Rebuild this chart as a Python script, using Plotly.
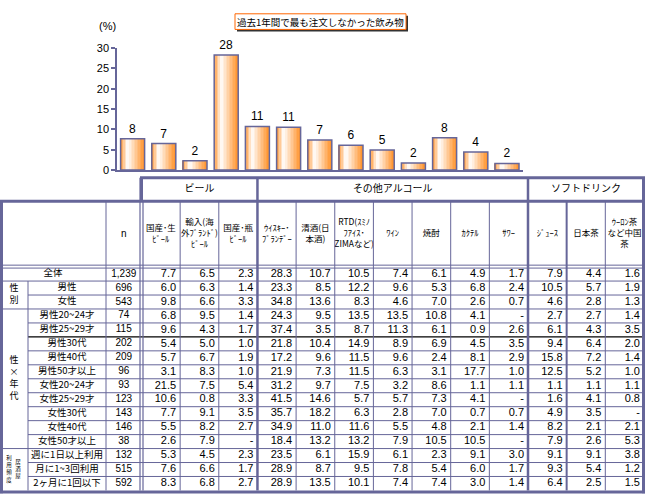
import plotly.graph_objects as go

# ---------------- data ----------------
title_text = "過去1年間で最も注文しなかった飲み物"
drinks = ["国産・生ビール", "輸入(海外ブランド)ビール", "国産・瓶ビール", "ウイスキー・ブランデー",
          "清酒(日本酒)", "RTD(スミノフアイス・ZIMAなど)", "ワイン", "焼酎", "カクテル", "サワー",
          "ジュース", "日本茶", "ウーロン茶など中国茶"]
header_labels = ["国産･生<br>ﾋﾞｰﾙ", "輸入(海<br>外ﾌﾞﾗﾝﾄﾞ)<br>ﾋﾞｰﾙ", "国産･瓶<br>ﾋﾞｰﾙ",
                 "ｳｲｽｷｰ･<br>ﾌﾞﾗﾝﾃﾞｰ", "清酒(日<br>本酒)", "RTD(ｽﾐﾉ<br>ﾌｱｲｽ･<br>ZIMAなど)",
                 "ﾜｲﾝ", "焼酎", "ｶｸﾃﾙ", "ｻﾜｰ", "ｼﾞｭｰｽ", "日本茶", "ｳｰﾛﾝ茶<br>など中国<br>茶"]
group_names = ["ビール", "その他アルコール", "ソフトドリンク"]
group_sizes = [3, 7, 3]
segments = ["全体", "男性", "女性", "男性20~24才", "男性25~29才", "男性30代", "男性40代", "男性50才以上",
            "女性20~24才", "女性25~29才", "女性30代", "女性40代", "女性50才以上",
            "週に1日以上利用", "月に1~3回利用", "2ヶ月に1回以下"]
n_values = ["1,239", "696", "543", "74", "115", "202", "209", "96", "93", "123", "143", "146", "38",
            "132", "515", "592"]
N = None
table_values = [
    [7.7, 6.5, 2.3, 28.3, 10.7, 10.5, 7.4, 6.1, 4.9, 1.7, 7.9, 4.4, 1.6],
    [6.0, 6.3, 1.4, 23.3, 8.5, 12.2, 9.6, 5.3, 6.8, 2.4, 10.5, 5.7, 1.9],
    [9.8, 6.6, 3.3, 34.8, 13.6, 8.3, 4.6, 7.0, 2.6, 0.7, 4.6, 2.8, 1.3],
    [6.8, 9.5, 1.4, 24.3, 9.5, 13.5, 13.5, 10.8, 4.1, N, 2.7, 2.7, 1.4],
    [9.6, 4.3, 1.7, 37.4, 3.5, 8.7, 11.3, 6.1, 0.9, 2.6, 6.1, 4.3, 3.5],
    [5.4, 5.0, 1.0, 21.8, 10.4, 14.9, 8.9, 6.9, 4.5, 3.5, 9.4, 6.4, 2.0],
    [5.7, 6.7, 1.9, 17.2, 9.6, 11.5, 9.6, 2.4, 8.1, 2.9, 15.8, 7.2, 1.4],
    [3.1, 8.3, 1.0, 21.9, 7.3, 11.5, 6.3, 3.1, 17.7, 1.0, 12.5, 5.2, 1.0],
    [21.5, 7.5, 5.4, 31.2, 9.7, 7.5, 3.2, 8.6, 1.1, 1.1, 1.1, 1.1, 1.1],
    [10.6, 0.8, 3.3, 41.5, 14.6, 5.7, 5.7, 7.3, 4.1, N, 1.6, 4.1, 0.8],
    [7.7, 9.1, 3.5, 35.7, 18.2, 6.3, 2.8, 7.0, 0.7, 0.7, 4.9, 3.5, N],
    [5.5, 8.2, 2.7, 34.9, 11.0, 11.6, 5.5, 4.8, 2.1, 1.4, 8.2, 2.1, 2.1],
    [2.6, 7.9, N, 18.4, 13.2, 13.2, 7.9, 10.5, 10.5, N, 7.9, 2.6, 5.3],
    [5.3, 4.5, 2.3, 23.5, 6.1, 15.9, 6.1, 2.3, 9.1, 3.0, 9.1, 9.1, 3.8],
    [7.6, 6.6, 1.7, 28.9, 8.7, 9.5, 7.8, 5.4, 6.0, 1.7, 9.3, 5.4, 1.2],
    [8.3, 6.8, 2.7, 28.9, 13.5, 10.1, 7.4, 7.4, 3.0, 1.4, 6.4, 2.5, 1.5],
]
overall = table_values[0]
side_groups = [("", 1), ("性別", 2), ("性×年代", 10), ("居酒屋利用頻度", 3)]

# ---------------- layout constants ----------------
W, H = 645, 502
LINE = "#666699"
JP = "Noto Sans CJK JP"
NUM = "Liberation Sans"
SPLIT_X, N_LEFT, DATA_LEFT, COL_W = 28, 106, 141.5, 38.65
GROUP_TOP, HEAD_TOP, HEAD_BOT, ROW_H = 176, 200, 267.5, 14.3
ncol = len(drinks)
nrow = len(segments)
col_edges = [DATA_LEFT + i * COL_W for i in range(ncol + 1)]
row_edges = [HEAD_BOT + i * ROW_H for i in range(nrow + 1)]
TABLE_BOT = row_edges[-1]

fig = go.Figure()

# ---------------- bar chart (gradient via strips) ----------------
BW = 0.77
NS = 16
orange = (255, 145, 40)


def strip_color(t):
    if t < 0.3:
        a = 1 - t / 0.3
    else:
        a = ((t - 0.3) / 0.7) ** 1.0
    a = min(max(a, 0), 1)
    r, g, b = [round(255 + (c - 255) * a) for c in orange]
    return f"rgb({r},{g},{b})"


sw = BW / NS
for k in range(NS):
    t = (k + 0.5) / NS
    w = sw * 1.2 if k < NS - 1 else sw
    fig.add_trace(go.Bar(x=drinks, y=overall, width=w, offset=-BW / 2 + k * sw,
                         marker=dict(color=strip_color(t), line=dict(width=0)),
                         hoverinfo="skip", showlegend=False, xaxis="x", yaxis="y"))
fig.add_trace(go.Bar(x=drinks, y=overall, width=BW, offset=-BW / 2,
                     marker=dict(color="rgba(0,0,0,0)", line=dict(color=LINE, width=1.5)),
                     texttemplate="%{y:.0f}", textposition="outside", cliponaxis=False,
                     textfont=dict(family=NUM, size=12, color="black"),
                     showlegend=False, xaxis="x", yaxis="y"))

# ---------------- table text ----------------
cx, cy, ct = [], [], []
for r, row in enumerate(table_values):
    yc = (row_edges[r] + row_edges[r + 1]) / 2
    for c, v in enumerate(row):
        cx.append(col_edges[c + 1] - 4)
        cy.append(yc)
        ct.append("-" if v is None else f"{v:.1f}")
fig.add_trace(go.Scatter(x=cx, y=cy, text=ct, mode="text", textposition="middle left",
                         textfont=dict(family=NUM, size=11, color="black"),
                         hoverinfo="skip", showlegend=False, xaxis="x2", yaxis="y2"))
# n column
ny = [(row_edges[r] + row_edges[r + 1]) / 2 for r in range(nrow)]
fig.add_trace(go.Scatter(x=[(N_LEFT + DATA_LEFT) / 2] * nrow, y=ny, text=n_values, mode="text",
                         textposition="middle center",
                         textfont=dict(family=NUM, size=10, color="black"),
                         hoverinfo="skip", showlegend=False, xaxis="x2", yaxis="y2"))
# row labels
lx = [N_LEFT / 2 if i == 0 else (SPLIT_X + N_LEFT) / 2 for i in range(nrow)]
fig.add_trace(go.Scatter(x=lx, y=ny, text=segments, mode="text", textposition="middle center",
                         textfont=dict(family=JP, size=9.5, color="black"),
                         hoverinfo="skip", showlegend=False, xaxis="x2", yaxis="y2"))
# column headers
hx = [(col_edges[c] + col_edges[c + 1]) / 2 for c in range(ncol)]
fig.add_trace(go.Scatter(x=hx, y=[(HEAD_TOP + HEAD_BOT) / 2] * ncol, text=header_labels, mode="text",
                         textposition="middle center",
                         textfont=dict(family=JP, size=8.5, color="black"),
                         hoverinfo="skip", showlegend=False, xaxis="x2", yaxis="y2"))
fig.add_trace(go.Scatter(x=[(N_LEFT + DATA_LEFT) / 2], y=[(HEAD_TOP + HEAD_BOT) / 2], text=["n"],
                         mode="text", textposition="middle center",
                         textfont=dict(family=NUM, size=10, color="black"),
                         hoverinfo="skip", showlegend=False, xaxis="x2", yaxis="y2"))
# group headers
gx, start = [], 0
for s in group_sizes:
    gx.append((col_edges[start] + col_edges[start + s]) / 2)
    start += s
fig.add_trace(go.Scatter(x=gx, y=[(GROUP_TOP + HEAD_TOP) / 2] * len(gx), text=group_names, mode="text",
                         textposition="middle center",
                         textfont=dict(family=JP, size=10, color="black"),
                         hoverinfo="skip", showlegend=False, xaxis="x2", yaxis="y2"))
# side (vertical) group labels, one text each with line breaks
sx, sy, st, ss = [], [], [], []
r0 = 0
for name, cnt in side_groups:
    top, bot = row_edges[r0], row_edges[r0 + cnt]
    mid = (top + bot) / 2
    if name == "居酒屋利用頻度":
        sx += [18, 9]
        sy += [mid, mid]
        st += ["<br>".join(name[:3]), "<br>".join(name[3:])]
        ss += [5.5, 5.5]
    elif name:
        sx.append(SPLIT_X / 2); sy.append(mid)
        st.append("<br>".join(name)); ss.append(9)
    r0 += cnt
fig.add_trace(go.Scatter(x=sx, y=sy, text=st, mode="text", textposition="middle center",
                         textfont=dict(family=JP, size=ss, color="black"),
                         hoverinfo="skip", showlegend=False, xaxis="x2", yaxis="y2"))

# ---------------- table lines ----------------
shapes = []


def hline(y, x0, x1, w=1, color=LINE):
    shapes.append(dict(type="line", xref="x2", yref="y2", x0=x0, x1=x1, y0=y, y1=y,
                       line=dict(color=color, width=w)))


def vline(x, y0, y1, w=1, color=LINE):
    shapes.append(dict(type="line", xref="x2", yref="y2", x0=x, x1=x, y0=y0, y1=y1,
                       line=dict(color=color, width=w)))


hline(GROUP_TOP, DATA_LEFT - 1.5, W, 3)
hline(HEAD_TOP, 0, W, 3)
hline(HEAD_BOT - 2, 0, W, 1)
hline(HEAD_BOT + 1, 0, W, 1)
group_starts = set()
acc = 0
for _, cnt in side_groups:
    acc += cnt
    group_starts.add(acc)
for i in range(1, nrow):
    if i == 5:
        hline(row_edges[i], SPLIT_X, W, 1.2, "black")
    elif i in group_starts:
        hline(row_edges[i], 0, W, 1)
    else:
        hline(row_edges[i], SPLIT_X, W, 1)
hline(TABLE_BOT + 1.5, 0, W, 3)
vline(1.5, HEAD_TOP, TABLE_BOT + 3, 3)
vline(W - 1.5, GROUP_TOP, TABLE_BOT + 3, 3)
vline(SPLIT_X, row_edges[1], TABLE_BOT)
vline(N_LEFT, HEAD_TOP, TABLE_BOT)
vline(DATA_LEFT - 1.5, GROUP_TOP, TABLE_BOT, 1.2)
vline(DATA_LEFT + 1.5, HEAD_TOP, TABLE_BOT, 1.2)
vline(DATA_LEFT, GROUP_TOP, HEAD_TOP, 3)
bound = set()
acc = 0
for s in group_sizes[:-1]:
    acc += s
    bound.add(acc)
for c in range(1, ncol):
    x = col_edges[c]
    if c in bound:
        vline(x, GROUP_TOP, TABLE_BOT, 2.5)
    elif c == 11:
        vline(x, HEAD_TOP, TABLE_BOT, 2)
    else:
        vline(x, HEAD_TOP, TABLE_BOT, 1)

TX0, TX1, TY0, TY1 = 235, 406, 8, 24
shapes.append(dict(type="rect", xref="x2", yref="y2", x0=TX0 + 2, x1=TX1 + 2, y0=TY0 + 2, y1=TY1 + 2,
                   fillcolor="#333333", line=dict(width=0), layer="below"))
shapes.append(dict(type="rect", xref="x2", yref="y2", x0=TX0, x1=TX1, y0=TY0, y1=TY1,
                   fillcolor="white", line=dict(color="#ff6600", width=1), layer="below"))

annotations = [
    dict(xref="x2", yref="y2", x=(TX0 + TX1) / 2, y=(TY0 + TY1) / 2 + 0.5, text=title_text,
         showarrow=False, font=dict(family=JP, size=9.5, color="black")),
    dict(xref="x2", yref="y2", x=107, y=20, text="(%)", showarrow=False,
         font=dict(family=NUM, size=11, color="black")),
]

fig.update_layout(
    width=W, height=H, autosize=False,
    margin=dict(l=0, r=0, t=0, b=0, pad=0),
    paper_bgcolor="white", plot_bgcolor="rgba(0,0,0,0)",
    barmode="overlay", showlegend=False,
    shapes=shapes, annotations=annotations,
    xaxis=dict(domain=[117 / W, 522.6 / W], showticklabels=False, ticks="", showgrid=False,
               zeroline=False, showline=True, linecolor=LINE, linewidth=1.5, fixedrange=True),
    yaxis=dict(domain=[(H - 168) / H, (H - 43) / H], range=[0, 30], dtick=5, ticks="outside",
               ticklen=4, tickcolor=LINE, tickwidth=1.5, showline=True, linecolor=LINE, linewidth=1.5,
               showgrid=False, zeroline=False, tickfont=dict(family=NUM, size=11, color="black"),
               fixedrange=True),
    xaxis2=dict(domain=[0, 1], range=[0, W], visible=False, anchor="y2", fixedrange=True),
    yaxis2=dict(domain=[0, 1], range=[H, 0], visible=False, anchor="x2", fixedrange=True),
)

fig.write_html("out.html", post_script="document.body.style.margin='0';",
               config={"displayModeBar": False})
